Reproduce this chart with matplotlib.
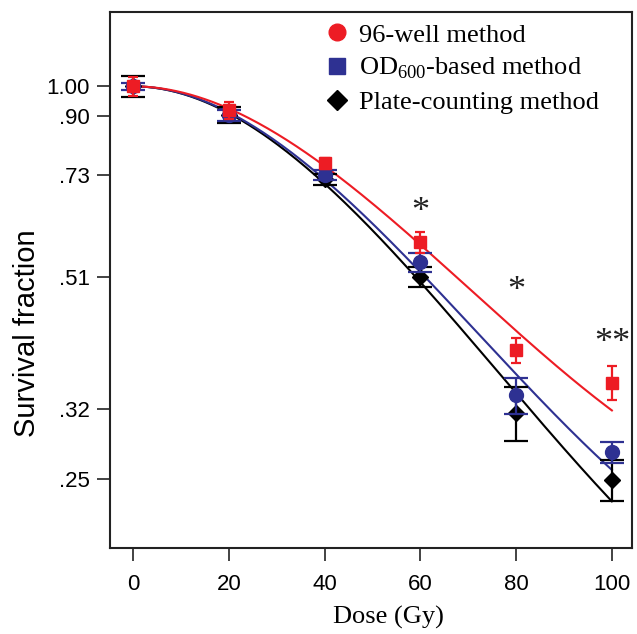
import numpy as np
import matplotlib
matplotlib.use('Agg')
from matplotlib import pyplot as plt
from matplotlib.lines import Line2D

plt.rcParams['font.family'] = ['Liberation Sans', 'DejaVu Sans']
plt.rcParams['mathtext.fontset'] = 'custom'
plt.rcParams['mathtext.rm'] = 'Liberation Serif'

dose = [0, 20, 40, 60, 80, 100]
well96 = [1.00, 0.919, 0.762, 0.577, 0.394, 0.351]
well96_err = [0.034, 0.028, 0.014, 0.021, 0.018, 0.021]
od600 = [1.00, 0.903, 0.731, 0.538, 0.336, 0.275]
od600_err = [0.012, 0.017, 0.013, 0.018, 0.021, 0.010]
plate = [1.00, 0.903, 0.720, 0.510, 0.316, 0.249]
plate_err = [0.038, 0.025, 0.013, 0.018, 0.030, 0.018]

# fitted curves: ln S = b*(D/100)^2 + c*(D/100)^3
fit_b = [-2.166, -2.521, -2.601]
fit_c = [1.022, 1.167, 1.136]

labels = ['96-well method', r'OD$_{\mathrm{600}}$-based method', 'Plate-counting method']
colors = ['#ED1C24', '#2E3192', '#000000']

yticks = [1.00, 0.90, 0.73, 0.51, 0.32, 0.25]
yticklabels = ['1.00', '.90', '.73', '.51', '.32', '.25']

star_dose = [60, 80, 100]
star_y = [0.640, 0.485, 0.404]
star_txt = ['*', '*', '**']

fig = plt.figure(figsize=(6.37, 6.34), dpi=100)
ax = fig.add_axes([110 / 637, 1 - 548 / 634, 522 / 637, 536 / 634])
ax.set_yscale('log')

d = np.linspace(0, 100, 200)
for i in [2, 1, 0]:
    x = d / 100
    ax.plot(d, np.exp(fit_b[i] * x**2 + fit_c[i] * x**3), color=colors[i], lw=1.5, zorder=2)

ax.errorbar(dose, plate, yerr=plate_err, fmt='D', color=colors[2], ms=8,
            elinewidth=1.6, capsize=8.5, capthick=1.6, zorder=3)
ax.errorbar(dose, od600, yerr=od600_err, fmt='o', color=colors[1], ms=10,
            elinewidth=1.6, capsize=8.5, capthick=1.6, zorder=4)
ax.errorbar(dose, well96, yerr=well96_err, fmt='s', color=colors[0], ms=8,
            elinewidth=1.6, capsize=3.5, capthick=1.6, zorder=5)

for xs, ys, t in zip(star_dose, star_y, star_txt):
    ax.text(xs, ys, t, ha='center', va='center', fontsize=26,
            family='Liberation Serif', color='#222222', clip_on=False)

ax.set_xlim(-4.8, 104.2)
ax.set_ylim(0.196, 1.30)
ax.set_xticks(dose)
ax.set_yticks(yticks)
ax.set_yticklabels(yticklabels)
ax.yaxis.set_minor_locator(matplotlib.ticker.NullLocator())
ax.tick_params(axis='both', length=9.5, width=1.2, labelsize=16, color='#222222', pad=5)
ax.tick_params(axis='x', pad=9)
for s in ax.spines.values():
    s.set_linewidth(1.5)
    s.set_color('#222222')

ax.set_ylabel('Survival fraction', fontsize=21)
ax.yaxis.set_label_coords(-0.132, 0.40)
ax.set_xlabel('Dose (Gy)', fontsize=19, family='Liberation Serif')
ax.xaxis.set_label_coords(0.533, -0.108)

handles = [
    Line2D([], [], marker='o', ls='none', color=colors[0], ms=12),
    Line2D([], [], marker='s', ls='none', color=colors[1], ms=11),
    Line2D([], [], marker='D', ls='none', color=colors[2], ms=10),
]
ax.legend(handles, labels, loc='upper left', bbox_to_anchor=(0.41, 0.979),
          frameon=False, prop={'family': 'Liberation Serif', 'size': 19},
          handlelength=1.0, handletextpad=0.31, labelspacing=0.35,
          borderpad=0, borderaxespad=0)

fig.savefig('out.png', dpi=100)
